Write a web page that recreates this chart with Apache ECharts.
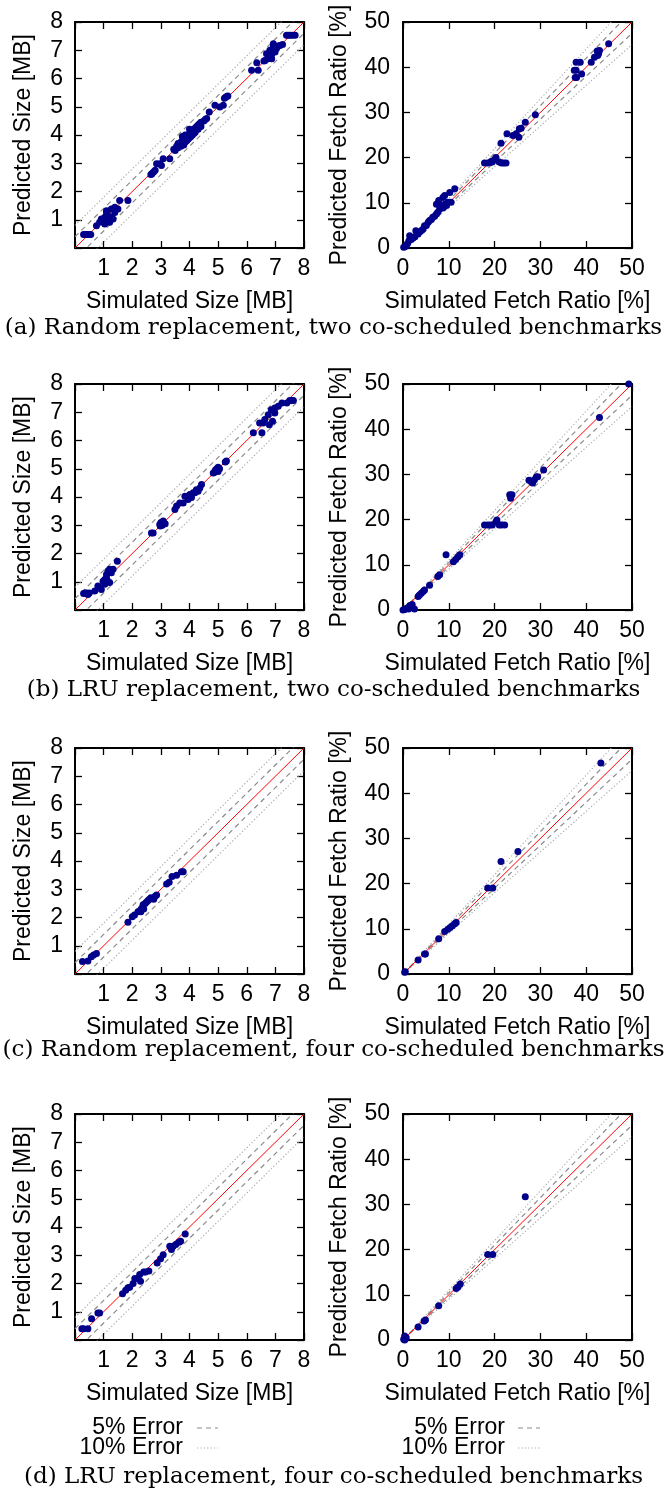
<!DOCTYPE html>
<html><head><meta charset="utf-8">
<script src="https://cdn.jsdelivr.net/npm/echarts@6/dist/echarts.min.js"></script>
<style>html,body{margin:0;padding:0;background:#fff}#c{width:667px;height:1495px}</style>
</head><body><div id="c"></div>
<script>
// ---------- tick labels / texts ----------
const sizeTicks = [1, 2, 3, 4, 5, 6, 7, 8];
const ratioTicks = [0, 10, 20, 30, 40, 50];
const errorLevels = [0.05, 0.10];
const legendLabels = ['5% Error', '10% Error'];
const sizeXName = 'Simulated Size [MB]';
const sizeYName = 'Predicted Size [MB]';
const ratioXName = 'Simulated Fetch Ratio [%]';
const ratioYName = 'Predicted Fetch Ratio [%]';
const captions = [
  '(a) Random replacement, two co-scheduled benchmarks',
  '(b) LRU replacement, two co-scheduled benchmarks',
  '(c) Random replacement, four co-scheduled benchmarks',
  '(d) LRU replacement, four co-scheduled benchmarks'
];

// ---------- data: [simulated, predicted] ----------
const sizeRandom2 = [
  [0.3,0.48],[0.35,0.48],[0.4,0.48],[0.45,0.48],[0.5,0.48],[0.55,0.48],
  [0.75,0.79],[0.86,0.91],[0.92,1.03],[0.98,0.97],[1.04,1.09],[1.04,0.85],[1.1,1.26],[1.1,1.32],
  [1.15,1.15],[1.15,0.97],[1.21,0.91],[1.27,1.38],[1.27,1.09],[1.33,1.03],[1.39,1.44],[1.39,1.26],[1.5,1.38],
  [1.56,1.68],[1.85,1.68],
  [2.65,2.6],[2.68,2.62],[2.7,2.65],[2.75,2.7],[2.8,2.75],
  [2.85,2.98],[2.96,2.98],[3.02,2.92],[3.08,3.16],[3.31,3.16],
  [3.45,3.5],[3.5,3.45],[3.55,3.6],[3.6,3.55],[3.6,3.7],[3.65,3.65],[3.7,3.75],[3.7,3.6],[3.75,3.8],
  [3.75,3.7],[3.8,3.9],[3.8,3.65],[3.85,3.85],[3.85,3.75],[3.9,3.95],[3.9,3.8],[3.95,4.0],[3.95,3.85],
  [4.0,4.05],[4.0,3.9],[4.05,4.1],[4.05,3.95],[4.1,4.15],[4.1,4.0],[4.15,4.2],[4.15,4.05],[4.2,4.25],
  [4.2,4.1],[4.25,4.3],[4.3,4.35],[4.3,4.2],[4.35,4.4],[4.4,4.45],[4.4,4.3],[4.5,4.5],[4.55,4.55],
  [4.6,4.58],[3.75,3.95],[3.85,4.0],[4.0,4.2],
  [4.69,4.81],[4.89,5.05],[5.06,4.99],[5.18,5.05],[5.22,5.3],[5.26,5.34],[5.3,5.36],[5.34,5.38],
  [6.17,6.29],[6.35,6.56],[6.4,6.29],
  [6.6,6.62],[6.64,6.64],[6.69,6.88],[6.75,6.7],[6.81,7.0],[6.87,6.7],[6.87,6.85],[6.93,7.12],[6.93,7.23],
  [6.99,6.94],[7.04,7.06],[7.1,7.15],[7.16,7.17],[7.25,7.2],[6.8,6.95],[6.9,7.0],
  [7.39,7.53],[7.45,7.53],[7.52,7.53],[7.6,7.53],[7.69,7.53]
];
const ratioRandom2 = [
  [0.15,0.15],[0.4,0.3],[0.7,0.5],[1.0,1.0],[1.3,1.6],[1.45,2.7],[1.8,1.9],[2.2,2.2],[2.8,3.8],[2.6,2.5],
  [3.3,3.1],[3.7,3.6],[4.1,3.9],[4.4,4.2],[4.7,4.9],[5.1,5.0],[5.5,5.7],[5.8,6.1],[6.2,6.3],[6.5,6.8],
  [6.9,7.0],[7.3,7.5],[7.6,7.9],[8.0,8.6],[7.3,9.7],[7.8,10.5],[8.7,11.2],[9.1,11.6],[8.4,9.4],[9.1,9.7],
  [9.8,10.1],[10.5,10.1],[10.2,12.3],[11.3,13.1],[8.8,8.9],[9.5,9.4],
  [17.8,18.8],[18.5,18.8],[19.0,18.9],[19.3,19.2],[19.5,19.0],[20.0,19.5],[20.3,20.0],[21.0,19.0],
  [21.5,18.8],[22.0,18.8],[22.5,18.8],
  [21.4,23.2],[22.7,25.3],[24.0,24.9],[24.7,25.3],[25.3,24.5],[25.4,26.4],[25.8,26.5],[26.7,27.8],[28.9,29.5],
  [37.4,39.3],[37.8,39.3],[37.8,41.1],[38.7,41.1],[37.6,37.7],[37.9,37.7],[39.0,38.5],[41.1,41.1],
  [41.8,42.2],[42.5,42.6],[42.9,43.7],[42.4,43.6],[42.7,43.0],[44.9,45.2]
];
const sizeLru2 = [
  [0.3,0.58],[0.35,0.6],[0.4,0.6],[0.45,0.55],[0.5,0.6],
  [0.69,0.67],[0.8,0.85],[0.86,0.79],[0.92,0.73],[0.98,1.02],[1.04,0.91],[1.04,1.08],[1.1,1.14],[1.1,1.26],
  [1.15,1.38],[1.15,1.02],[1.21,1.44],[1.21,0.97],[1.27,1.32],[1.33,1.44],[1.48,1.73],
  [2.67,2.73],[2.73,2.73],
  [2.96,3.03],[2.98,2.97],[3.0,3.1],[3.05,3.0],[3.08,3.15],[3.1,3.1],[3.15,3.05],
  [3.49,3.56],[3.55,3.68],[3.66,3.79],[3.78,3.79],[3.84,4.03],[3.95,3.91],[4.01,4.09],[4.07,3.98],
  [4.13,4.15],[4.19,4.15],[4.24,4.26],[4.3,4.2],[4.36,4.32],[4.42,4.44],
  [4.83,4.85],[4.88,4.88],[4.9,4.95],[4.95,5.0],[5.0,4.9],[5.0,5.05],[5.05,5.0],
  [5.25,5.24],[5.29,5.27],
  [6.23,6.27],[6.53,6.27],
  [6.45,6.62],[6.57,6.62],[6.63,6.74],[6.75,6.91],[6.79,6.56],[6.86,7.09],[6.9,6.68],[6.98,7.15],[6.98,6.97],
  [7.1,7.21],[7.23,7.33],[7.4,7.33],
  [7.5,7.42],[7.56,7.42],[7.63,7.42]
];
const ratioLru2 = [
  [0.0,0.0],[0.3,0.1],[0.5,0.2],[1.0,0.5],[1.2,0.2],[1.5,1.0],[2.0,1.2],[2.0,0.6],[2.5,0.2],
  [3.3,3.0],[3.6,3.3],[4.0,3.7],[4.4,4.1],[4.7,4.4],[5.8,5.5],[7.6,7.4],[8.0,7.8],
  [9.4,12.2],[11.0,10.7],[11.5,11.2],[12.0,11.8],[12.4,12.2],
  [17.8,18.8],[18.5,18.8],[19.0,18.8],[19.5,18.8],[20.3,19.5],[20.5,19.9],[21.0,18.8],[21.5,18.8],[22.2,18.8],
  [23.3,25.5],[23.8,25.5],[23.5,24.7],
  [27.5,28.7],[28.0,28.4],[28.3,28.1],[28.7,28.8],[29.1,29.4],[29.4,29.5],[30.7,31.0],
  [42.9,42.6],[49.3,50.0]
];
const sizeRandom4 = [
  [0.26,0.44],[0.45,0.46],[0.57,0.61],[0.65,0.67],[0.75,0.73],
  [1.85,1.83],[2.0,2.03],[2.08,2.09],[2.2,2.2],[2.27,2.25],[2.3,2.2],[2.33,2.33],[2.38,2.45],[2.4,2.3],
  [2.45,2.5],[2.5,2.55],[2.55,2.6],[2.6,2.65],[2.65,2.7],[2.75,2.65],[2.8,2.75],[2.85,2.8],
  [3.2,3.19],[3.29,3.25],[3.39,3.45],[3.55,3.5],[3.72,3.62],[3.78,3.62]
];
const ratioRandom4 = [
  [0.36,0.37],[0.5,0.5],[3.3,3.1],[4.7,4.4],[4.9,4.4],
  [7.8,7.8],[9.1,9.4],[9.8,9.9],[10.3,10.3],[10.8,10.7],[11.3,11.1],[11.6,11.4],
  [18.5,19.0],[19.6,19.0],[21.4,24.9],[25.1,27.1],[43.2,46.7]
];
const sizeLru4 = [
  [0.24,0.4],[0.3,0.4],[0.45,0.4],[0.58,0.75],[0.8,0.96],[0.86,0.96],
  [1.66,1.64],[1.77,1.76],[1.85,1.85],[1.91,1.87],[2.03,2.0],[2.09,2.18],[2.2,2.18],[2.26,2.32],
  [2.29,2.08],[2.4,2.41],[2.46,2.41],[2.58,2.44],
  [2.87,2.73],[2.99,2.88],[3.08,3.02],
  [3.31,3.32],[3.37,3.2],[3.43,3.32],[3.52,3.38],[3.63,3.46],[3.69,3.5],[3.85,3.75]
];
const ratioLru4 = [
  [0.15,0.15],[0.36,0.0],[0.36,0.9],[0.7,0.5],
  [3.3,2.9],[4.6,4.2],[4.9,4.4],[7.8,7.6],[11.6,11.4],[12.0,11.7],[12.5,12.4],
  [18.5,18.9],[19.6,18.9],[26.7,31.7]
];

// ---------- layout ----------
const SANS = '"Liberation Sans", Arial, sans-serif';
const SERIF = '"DejaVu Serif", serif';
const FS = 23;
const panels = [
  { kind: 'size',  data: sizeRandom2,  left: 75,  top: 22 },
  { kind: 'ratio', data: ratioRandom2, left: 403, top: 22 },
  { kind: 'size',  data: sizeLru2,     left: 75,  top: 384 },
  { kind: 'ratio', data: ratioLru2,    left: 403, top: 384 },
  { kind: 'size',  data: sizeRandom4,  left: 75,  top: 748 },
  { kind: 'ratio', data: ratioRandom4, left: 403, top: 748 },
  { kind: 'size',  data: sizeLru4,     left: 75,  top: 1114 },
  { kind: 'ratio', data: ratioLru4,    left: 403, top: 1114 }
];
const captionY = [328, 690, 1050, 1477];

const grids = [], xAxes = [], yAxes = [], series = [];
const tickStyle = { show: true, inside: true, length: 7, lineStyle: { color: '#000', width: 1.3 } };
const lineAx = { show: true, onZero: false, lineStyle: { color: '#000', width: 2 } };

function fmt(ticks) { return v => (ticks.indexOf(v) >= 0 ? String(v) : ''); }

panels.forEach((p, i) => {
  const isSize = p.kind === 'size';
  const ticks = isSize ? sizeTicks : ratioTicks;
  const max = ticks[ticks.length - 1];
  const interval = ticks[1] - ticks[0];
  grids.push({ left: p.left, top: p.top, width: 229, height: 226 });
  const base = { min: 0, max: max, interval: interval, splitLine: { show: false },
                 axisLine: lineAx, axisTick: tickStyle, gridIndex: i, type: 'value' };
  const xi = xAxes.length, yi = yAxes.length;
  xAxes.push(Object.assign({}, base, {
    position: 'bottom',
    name: isSize ? sizeXName : ratioXName, nameLocation: 'middle', nameGap: 42,
    nameTextStyle: { fontFamily: SANS, fontSize: FS, color: '#000' },
    axisLabel: { formatter: fmt(ticks), margin: 9, fontFamily: SANS, fontSize: FS, color: '#000' }
  }));
  xAxes.push(Object.assign({}, base, { position: 'top', axisLabel: { show: false } }));
  yAxes.push(Object.assign({}, base, {
    position: 'left',
    name: isSize ? sizeYName : ratioYName, nameLocation: 'middle', nameRotate: 90,
    nameGap: isSize ? 40 : 52,
    nameTextStyle: { fontFamily: SANS, fontSize: FS, color: '#000' },
    axisLabel: { formatter: fmt(ticks), margin: isSize ? 12 : 13, fontFamily: SANS, fontSize: FS, color: '#000' }
  }));
  yAxes.push(Object.assign({}, base, { position: 'right', axisLabel: { show: false } }));

  // reference lines
  const refLine = (pts, style, z) => series.push({
    type: 'line', xAxisIndex: xi, yAxisIndex: yi, data: pts, showSymbol: false, symbol: 'none',
    silent: true, animation: false, clip: true, lineStyle: style, z: z
  });
  refLine([[0, 0], [max, max]], { color: '#ff0000', width: 1 }, 3);
  errorLevels.forEach((e, k) => {
    const style = k === 0
      ? { color: '#8a8a8a', width: 1.2, type: [5, 4] }
      : { color: '#aaaaaa', width: 1.2, type: [1.2, 2.2] };
    if (isSize) {
      const off = e * max;
      refLine([[0, off], [max, max + off]], style, 2);
      refLine([[0, -off], [max, max - off]], style, 2);
    } else {
      refLine([[0, 0], [max, max * (1 + e)]], style, 2);
      refLine([[0, 0], [max, max * (1 - e)]], style, 2);
    }
  });
  series.push({
    type: 'scatter', xAxisIndex: xi, yAxisIndex: yi, data: p.data,
    symbol: 'circle', symbolSize: 7, itemStyle: { color: '#00008b', opacity: 1 }, z: 5, animation: false
  });
});

// captions & legends
const graphic = [];
captions.forEach((t, i) => graphic.push({
  type: 'text', x: 333.5, y: captionY[i],
  style: { text: t, fill: '#000', font: '23px ' + SERIF, textAlign: 'center', textVerticalAlign: 'middle' }
}));
const legendRows = [1428, 1448];
[[183, 197, 218], [505, 518, 540]].forEach(([tx, l1, l2]) => {
  legendLabels.forEach((lab, k) => {
    graphic.push({ type: 'text', x: tx, y: legendRows[k],
      style: { text: lab, fill: '#000', font: FS + 'px ' + SANS, textAlign: 'right', textVerticalAlign: 'middle' } });
    graphic.push({ type: 'line', shape: { x1: l1, y1: legendRows[k], x2: l2, y2: legendRows[k] },
      style: k === 0 ? { stroke: '#8a8a8a', lineWidth: 1.2, lineDash: [5, 4] }
                     : { stroke: '#aaaaaa', lineWidth: 1.2, lineDash: [1.2, 2.2] } });
  });
});

const chart = echarts.init(document.getElementById('c'), null, { renderer: 'canvas' });
chart.setOption({
  backgroundColor: '#fff',
  animation: false,
  grid: grids, xAxis: xAxes, yAxis: yAxes, series: series, graphic: graphic
});
</script></body></html>
